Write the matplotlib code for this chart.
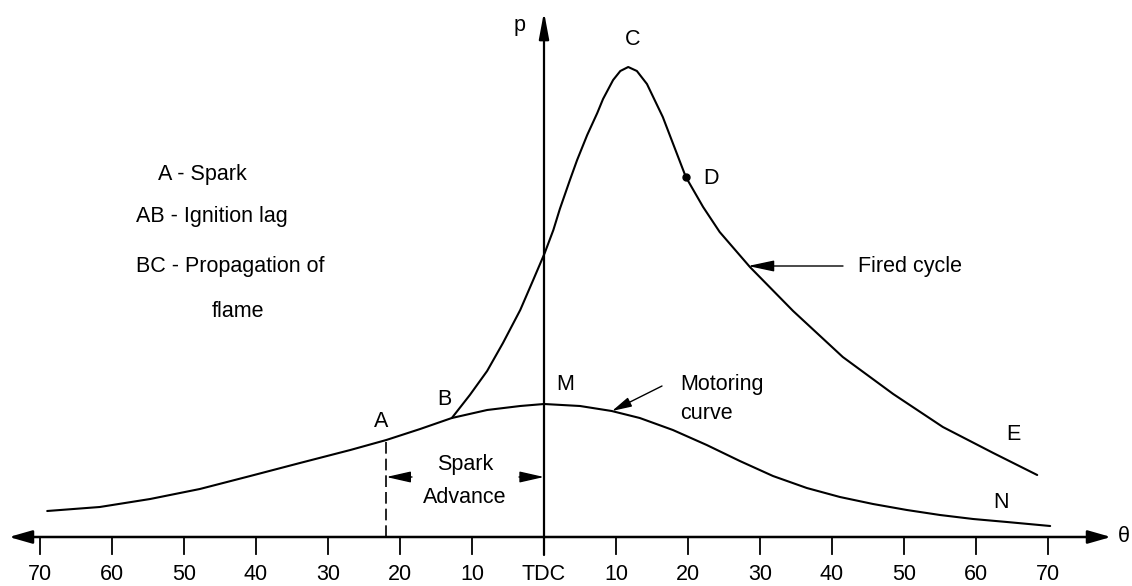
import numpy as np
import matplotlib.pyplot as plt

plt.rcParams['font.family'] = ['Liberation Sans', 'DejaVu Sans']

# crank angle in degrees (negative = before TDC), pressure in arbitrary units
motor_deg = [-69.0, -61.7, -54.7, -47.8, -40.8, -33.9, -26.9, -21.9, -17.2, -12.8,
             -7.9, -3.3, 0.0, 5.0, 9.4, 13.3, 17.9, 22.6, 27.2, 31.8, 36.5, 41.1,
             45.7, 50.4, 55.0, 59.6, 64.3, 70.3]
motor_p = [2.6, 3.0, 3.8, 4.8, 6.1, 7.4, 8.7, 9.7, 10.8, 11.9,
           12.7, 13.1, 13.3, 13.1, 12.6, 11.9, 10.7, 9.2, 7.6, 6.1, 4.9, 4.0,
           3.3, 2.7, 2.2, 1.8, 1.5, 1.1]

fired_deg = [-12.8, -10.3, -7.9, -5.7, -3.3, -1.5, 0.1, 1.3, 2.2, 3.6, 4.6, 6.0,
             7.4, 8.2, 9.6, 10.6, 11.7, 12.9, 14.3, 16.5, 19.7, 22.1,
             24.4, 28.6, 34.6, 41.5, 48.5, 55.4, 62.4, 68.5]
fired_p = [11.9, 14.2, 16.6, 19.4, 22.7, 25.7, 28.4, 30.7, 32.8, 35.7, 37.7, 40.2,
           42.4, 43.8, 45.7, 46.6, 47.0, 46.6, 45.3, 42.0, 36.0, 33.0,
           30.5, 27.0, 22.6, 18.0, 14.3, 11.0, 8.4, 6.2]

tick_deg = [-70, -60, -50, -40, -30, -20, -10, 0, 10, 20, 30, 40, 50, 60, 70]
tick_labels = ['70', '60', '50', '40', '30', '20', '10', 'TDC',
               '10', '20', '30', '40', '50', '60', '70']

spark_deg = -21.9   # point A
spark_p = 9.7
point_d = (19.7, 36.0)

legend_lines = ['A - Spark', 'AB - Ignition lag', 'BC - Propagation of', 'flame']


# helper: reference-image pixel position -> data coords (for labels only)
def P(x, y):
    return (x - 544) / 7.2, (537 - y) / 10.0


fig = plt.figure(figsize=(11.32, 5.86), dpi=100)
ax = fig.add_axes([0, 0, 1, 1])
ax.set_xlim(P(0, 0)[0], P(1132, 0)[0])
ax.set_ylim(P(0, 586)[1], P(0, 0)[1])
ax.axis('off')

fs = 15.5
lw_curve = 1.5

# axes with arrows
ax.annotate('', xy=P(1111, 537), xytext=P(9, 537),
            arrowprops=dict(arrowstyle='<|-|>,head_length=0.7,head_width=0.2',
                            mutation_scale=20, lw=1.8, color='k',
                            shrinkA=0, shrinkB=0))
ax.annotate('', xy=P(544, 12), xytext=P(544, 555),
            arrowprops=dict(arrowstyle='-|>,head_length=0.8,head_width=0.15',
                            mutation_scale=20, lw=1.6, color='k',
                            shrinkA=0, shrinkB=0))

# ticks and labels
tick_bottom = P(0, 554)[1]
for d, lab in zip(tick_deg, tick_labels):
    ax.plot([d, d], [0, tick_bottom], color='k', lw=1.3)
    ax.text(d, P(0, 580)[1], lab, ha='center', va='baseline', fontsize=fs)

ax.text(*P(1124, 537), 'θ', ha='center', va='center', fontsize=fs)
ax.text(*P(520, 31), 'p', ha='center', va='baseline', fontsize=fs)

# curves
ax.plot(motor_deg, motor_p, color='k', lw=lw_curve, solid_capstyle='round',
        solid_joinstyle='round')
ax.plot(fired_deg, fired_p, color='k', lw=lw_curve, solid_capstyle='round',
        solid_joinstyle='round')
ax.plot(*point_d, 'o', color='k', ms=5)

# spark line
ax.plot([spark_deg, spark_deg], [0, spark_p], color='k', lw=1.2,
        dashes=(7, 3))

# point labels
for lab, (x, y) in zip(['A', 'B', 'C', 'D', 'E', 'M', 'N'],
                       [(381, 427), (444, 405), (633, 45), (711, 184),
                        (1013, 440), (565, 390), (1001, 508)]):
    ax.text(*P(x, y), lab, ha='center', va='baseline', fontsize=fs)

# left text block
ax.text(*P(202, 180), legend_lines[0], ha='center', va='baseline', fontsize=fs)
ax.text(*P(136, 222), legend_lines[1], ha='left', va='baseline', fontsize=fs)
ax.text(*P(136, 272), legend_lines[2], ha='left', va='baseline', fontsize=fs)
ax.text(*P(238, 317), legend_lines[3], ha='center', va='baseline', fontsize=fs)

# fired cycle label
ax.text(*P(858, 272), 'Fired cycle', ha='left', va='baseline', fontsize=fs)
ax.annotate('', xy=P(748, 266), xytext=P(843, 266),
            arrowprops=dict(arrowstyle='-|>,head_length=0.8,head_width=0.17',
                            mutation_scale=20, lw=1.0, color='k',
                            shrinkA=0, shrinkB=0))

# motoring curve label
ax.text(*P(680, 390), 'Motoring', ha='left', va='baseline', fontsize=fs)
ax.text(*P(680, 419), 'curve', ha='left', va='baseline', fontsize=fs)
ax.annotate('', xy=P(612, 411), xytext=P(662, 386),
            arrowprops=dict(arrowstyle='-|>,head_length=0.6,head_width=0.15',
                            mutation_scale=20, lw=1.0, color='k',
                            shrinkA=0, shrinkB=0))

# spark advance
ax.text(*P(465, 470), 'Spark', ha='center', va='baseline', fontsize=fs)
ax.text(*P(465, 503), 'Advance', ha='center', va='baseline', fontsize=fs)
ax.annotate('', xy=(spark_deg, P(0, 477)[1]), xytext=P(412, 477),
            arrowprops=dict(arrowstyle='-|>,head_length=0.75,head_width=0.17',
                            mutation_scale=20, lw=1.0, color='k',
                            shrinkA=0, shrinkB=0))
ax.annotate('', xy=(0, P(0, 477)[1]), xytext=P(519, 477),
            arrowprops=dict(arrowstyle='-|>,head_length=0.75,head_width=0.17',
                            mutation_scale=20, lw=1.0, color='k',
                            shrinkA=0, shrinkB=0))

fig.savefig('out.png', dpi=100)
